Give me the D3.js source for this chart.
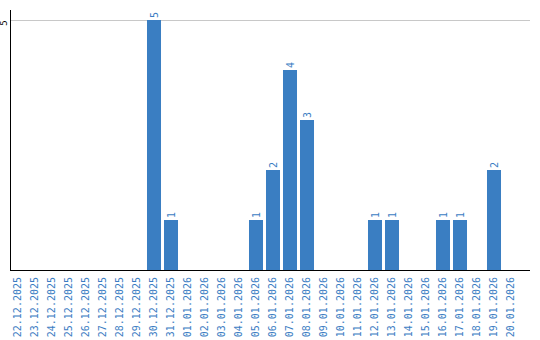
<!DOCTYPE html>
<html>
<head>
<meta charset="utf-8">
<script src="https://cdn.jsdelivr.net/npm/d3@7"></script>
<style>
  body { margin: 0; background: #fff; }
  svg { display: block; }
</style>
</head>
<body>
<div id="vis"></div>
<script>
// chart data
const DATES = ["22.12.2025", "23.12.2025", "24.12.2025", "25.12.2025", "26.12.2025",
  "27.12.2025", "28.12.2025", "29.12.2025", "30.12.2025", "31.12.2025",
  "01.01.2026", "02.01.2026", "03.01.2026", "04.01.2026", "05.01.2026",
  "06.01.2026", "07.01.2026", "08.01.2026", "09.01.2026", "10.01.2026",
  "11.01.2026", "12.01.2026", "13.01.2026", "14.01.2026", "15.01.2026",
  "16.01.2026", "17.01.2026", "18.01.2026", "19.01.2026", "20.01.2026"];
const COUNTS = [0, 0, 0, 0, 0, 0, 0, 0, 5, 1,
  0, 0, 0, 0, 1, 2, 4, 3, 0, 0,
  0, 1, 1, 0, 0, 1, 1, 0, 2, 0];
const Y_TICKS = [5];

// constants for the visualization
const FRAME_WIDTH = 540;
const FRAME_HEIGHT = 340;
const PLOT = {left: 10, right: 530, top: 10, bottom: 270};
const BAR_COLOR = "#3a7ec2";
const TEXT_COLOR = "#3b7dc3";
const FONT = "'DejaVu Sans Mono', monospace";

const DATA = DATES.map((d, i) => { return {date: d, count: COUNTS[i]}; });

const FRAME = d3.select("#vis")
  .append("svg")
  .attr("width", FRAME_WIDTH)
  .attr("height", FRAME_HEIGHT);

// scales
const X_SCALE = d3.scaleBand()
  .domain(DATES)
  .range([9.5, 9.5 + 17 * DATES.length])
  .paddingInner(0.176)
  .paddingOuter(0.088);

const Y_SCALE = d3.scaleLinear()
  .domain([0, 5])
  .range([PLOT.bottom, 20]);

// gridline and y tick label
FRAME.selectAll(".grid")
  .data(Y_TICKS)
  .enter()
  .append("line")
  .attr("x1", PLOT.left + 1)
  .attr("x2", PLOT.right)
  .attr("y1", (d) => { return Y_SCALE(d) + 0.5; })
  .attr("y2", (d) => { return Y_SCALE(d) + 0.5; })
  .attr("stroke", "#c8c8c8")
  .attr("stroke-width", 1);

FRAME.selectAll(".ytick")
  .data(Y_TICKS)
  .enter()
  .append("text")
  .attr("transform", (d) => { return "translate(7," + (Y_SCALE(d) + 3) + ") rotate(-90)"; })
  .attr("text-anchor", "middle")
  .attr("font-family", FONT)
  .attr("font-size", "9px")
  .attr("fill", "#000")
  .text((d) => { return d; });

// bars
const BARS = DATA.filter((d) => { return d.count > 0; });

FRAME.selectAll(".bar")
  .data(BARS)
  .enter()
  .append("rect")
  .attr("x", (d) => { return X_SCALE(d.date); })
  .attr("y", (d) => { return Y_SCALE(d.count); })
  .attr("width", X_SCALE.bandwidth())
  .attr("height", (d) => { return PLOT.bottom - Y_SCALE(d.count); })
  .attr("fill", BAR_COLOR);

// value labels above bars
FRAME.selectAll(".value")
  .data(BARS)
  .enter()
  .append("text")
  .attr("transform", (d) => {
    return "translate(" + (X_SCALE(d.date) + X_SCALE.bandwidth() / 2) + "," + (Y_SCALE(d.count) - 2) + ") rotate(-90)";
  })
  .attr("dy", "0.35em")
  .attr("text-anchor", "start")
  .attr("font-family", FONT)
  .attr("font-size", "10px")
  .attr("fill", TEXT_COLOR)
  .text((d) => { return d.count; });

// axes lines
FRAME.append("line")
  .attr("x1", PLOT.left + 0.5)
  .attr("x2", PLOT.left + 0.5)
  .attr("y1", PLOT.top)
  .attr("y2", PLOT.bottom + 1)
  .attr("stroke", "#000")
  .attr("stroke-width", 1);

FRAME.append("line")
  .attr("x1", PLOT.left)
  .attr("x2", PLOT.right)
  .attr("y1", PLOT.bottom + 0.5)
  .attr("y2", PLOT.bottom + 0.5)
  .attr("stroke", "#000")
  .attr("stroke-width", 1);

// date labels
FRAME.selectAll(".xlabel")
  .data(DATES)
  .enter()
  .append("text")
  .attr("transform", (d) => {
    return "translate(" + (X_SCALE(d) + X_SCALE.bandwidth() / 2 - 1) + "," + (PLOT.bottom + 7) + ") rotate(-90)";
  })
  .attr("dy", "0.35em")
  .attr("text-anchor", "end")
  .attr("font-family", FONT)
  .attr("font-size", "10px")
  .attr("fill", TEXT_COLOR)
  .text((d) => { return d; });
</script>
</body>
</html>
